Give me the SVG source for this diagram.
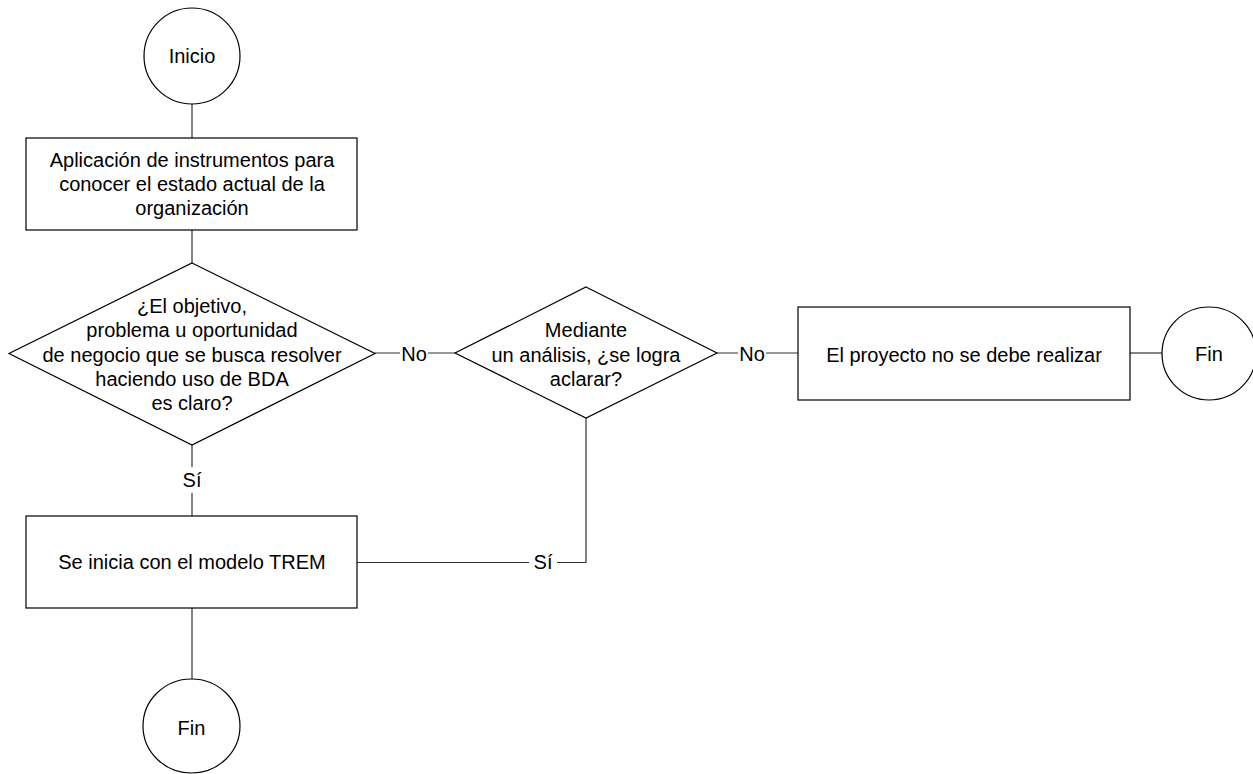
<svg xmlns="http://www.w3.org/2000/svg" width="1253" height="774" viewBox="0 0 1253 774">
  <style>
    .shape { fill: #ffffff; stroke: #000000; stroke-width: 1.2; }
    .conn { fill: none; stroke: #333333; stroke-width: 1.2; }
    .lblbg { fill: #ffffff; stroke: none; }
    text { font-family: "Liberation Sans", Arial, sans-serif; font-size: 20px; fill: #000000; text-anchor: middle; }
  </style>
  <rect width="1253" height="774" fill="#ffffff"/>

  <!-- connectors -->
  <g id="connectors">
    <line class="conn" x1="192" y1="104" x2="192" y2="138"/>
    <line class="conn" x1="192" y1="230" x2="192" y2="263"/>
    <line class="conn" x1="192" y1="445" x2="192" y2="516"/>
    <line class="conn" x1="192" y1="608" x2="192" y2="679"/>
    <line class="conn" x1="375" y1="353" x2="455" y2="353"/>
    <line class="conn" x1="717" y1="353" x2="798" y2="353"/>
    <line class="conn" x1="1130" y1="353" x2="1162" y2="353"/>
    <polyline class="conn" points="586,418 586,562.5 357,562.5"/>
    <!-- connector labels -->
    <rect class="lblbg" x="178" y="467" width="28" height="26"/>
    <text x="192" y="487">Sí</text>
    <rect class="lblbg" x="400" y="340" width="28" height="26"/>
    <text x="414" y="361">No</text>
    <rect class="lblbg" x="738" y="340" width="28" height="26"/>
    <text x="752" y="361">No</text>
    <rect class="lblbg" x="529" y="549" width="28" height="26"/>
    <text x="543" y="569">Sí</text>
  </g>

  <g id="inicio">
    <ellipse class="shape" cx="192" cy="56" rx="48" ry="48"/>
    <text x="192" y="63">Inicio</text>
  </g>

  <g id="aplicacion">
    <rect class="shape" x="26" y="138" width="331" height="92"/>
    <text x="192" y="167">Aplicación de instrumentos para</text>
    <text x="192" y="191">conocer el estado actual de la</text>
    <text x="192" y="215">organización</text>
  </g>

  <g id="decision-objetivo">
    <polygon class="shape" points="192,263 375,353.5 192,445 9,353.5"/>
    <text x="192" y="313">¿El objetivo,</text>
    <text x="192" y="337">problema u oportunidad</text>
    <text x="192" y="361.5">de negocio que se busca resolver</text>
    <text x="192" y="386">haciendo uso de BDA</text>
    <text x="192" y="410">es claro?</text>
  </g>

  <g id="decision-analisis">
    <polygon class="shape" points="586,287 717,353 586,418 455,353"/>
    <text x="586" y="337">Mediante</text>
    <text x="586" y="361.5">un análisis, ¿se logra</text>
    <text x="586" y="386">aclarar?</text>
  </g>

  <g id="no-realizar">
    <rect class="shape" x="798" y="307" width="332" height="93"/>
    <text x="964" y="361.5">El proyecto no se debe realizar</text>
  </g>

  <g id="fin-derecha">
    <ellipse class="shape" cx="1209" cy="353.5" rx="47" ry="46.5"/>
    <text x="1209" y="361">Fin</text>
  </g>

  <g id="modelo-trem">
    <rect class="shape" x="26" y="516" width="331" height="92"/>
    <text x="192" y="569">Se inicia con el modelo TREM</text>
  </g>

  <g id="fin-abajo">
    <ellipse class="shape" cx="191.5" cy="726" rx="48.5" ry="47"/>
    <text x="191.5" y="735">Fin</text>
  </g>
</svg>
